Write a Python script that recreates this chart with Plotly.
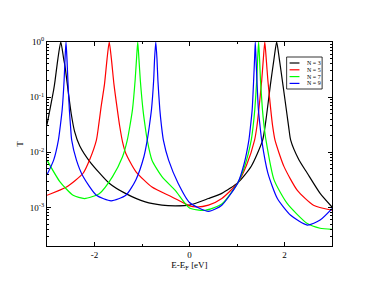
import plotly.graph_objects as go

# ---- data (x = E-E_F [eV], T = transmission) ----
x_n3 = [-3.0, -2.86, -2.83, -2.77, -2.71, -2.65, -2.62, -2.55, -2.49, -2.42, -2.31, -2.10, -1.69,
        -1.34, -0.93, -0.58, -0.30, 0.0, 0.40, 0.68, 1.02, 1.30, 1.54, 1.62, 1.70, 1.78, 1.835,
        1.89, 1.97, 2.05, 2.09, 2.13, 2.30, 2.48, 2.75, 3.0]
t_n3 = [0.0316, 0.135, 0.2, 0.5, 1.0, 0.5, 0.36, 0.12, 0.05, 0.024, 0.013, 0.0068, 0.00275,
        0.00178, 0.00126, 0.0011, 0.00107, 0.0011, 0.00145, 0.0018, 0.00282, 0.0056, 0.0166,
        0.045, 0.16, 0.5, 1.0, 0.5, 0.16, 0.05, 0.028, 0.0166, 0.0074, 0.00417, 0.0018, 0.00102]

x_n5 = [-3.0, -2.59, -2.24, -2.10, -1.96, -1.91, -1.86, -1.79, -1.735, -1.69, -1.645, -1.59,
        -1.52, -1.47, -1.41, -1.34, -1.13, -0.79, -0.37, 0.0, 0.15, 0.40, 0.68, 1.02, 1.20, 1.37,
        1.42, 1.46, 1.52, 1.555, 1.585, 1.615, 1.65, 1.71, 1.75, 1.80, 1.99, 2.27, 2.61, 3.0]
t_n5 = [0.00166, 0.00234, 0.00417, 0.0074, 0.0166, 0.032, 0.068, 0.17, 0.5, 1.0, 0.5, 0.17,
        0.06, 0.03, 0.0155, 0.0095, 0.00447, 0.00234, 0.00155, 0.00107, 0.00102, 0.0011,
        0.00145, 0.00282, 0.0058, 0.0166, 0.03, 0.06, 0.2, 0.5, 1.0, 0.5, 0.2, 0.06, 0.03, 0.0166,
        0.0055, 0.00204, 0.0011, 0.00089]

x_n7 = [-3.0, -2.73, -2.45, -2.21, -1.90, -1.62, -1.41, -1.31, -1.255, -1.20, -1.145, -1.115,
        -1.09, -1.065, -1.035, -0.98, -0.935, -0.89, -0.79, -0.58, -0.30, 0.0, 0.33, 0.68, 1.02,
        1.17, 1.30, 1.34, 1.375, 1.415, 1.435, 1.455, 1.475, 1.495, 1.535, 1.57, 1.61, 1.78, 2.06,
        2.48, 2.75, 3.0]
t_n7 = [0.0072, 0.00295, 0.00166, 0.00145, 0.00178, 0.00363, 0.0083, 0.0166, 0.03, 0.06, 0.2,
        0.5, 1.0, 0.5, 0.2, 0.06, 0.03, 0.0166, 0.0072, 0.00363, 0.00204, 0.00098, 0.00089,
        0.00115, 0.00282, 0.0059, 0.0166, 0.03, 0.06, 0.2, 0.5, 1.0, 0.5, 0.2, 0.06, 0.03, 0.0166,
        0.00316, 0.00117, 0.00051, 0.00042, 0.0004]

x_n9 = [-3.0, -2.86, -2.76, -2.72, -2.68, -2.64, -2.62, -2.60, -2.58, -2.56, -2.53, -2.505,
        -2.48, -2.38, -2.24, -1.96, -1.65, -1.34, -1.13, -0.96, -0.89, -0.845, -0.80, -0.755,
        -0.735, -0.71, -0.685, -0.665, -0.625, -0.59, -0.55, -0.44, -0.24, 0.0, 0.40, 0.68, 1.02,
        1.15, 1.25, 1.285, 1.32, 1.35, 1.37, 1.385, 1.40, 1.42, 1.45, 1.485, 1.52, 1.65, 1.85,
        2.13, 2.48, 2.75, 3.0]
t_n9 = [0.0039, 0.0072, 0.0166, 0.03, 0.06, 0.2, 0.5, 1.0, 0.5, 0.2, 0.06, 0.03, 0.0166, 0.0072,
        0.00363, 0.00166, 0.00132, 0.00166, 0.00316, 0.0083, 0.0166, 0.03, 0.06, 0.2, 0.5, 1.0,
        0.5, 0.2, 0.06, 0.03, 0.0166, 0.0072, 0.00275, 0.00123, 0.00085, 0.0011, 0.00282, 0.0062,
        0.0166, 0.03, 0.06, 0.2, 0.5, 1.0, 0.5, 0.2, 0.06, 0.03, 0.0166, 0.0042, 0.00145,
        0.00072, 0.00048, 0.00059, 0.00095]

series_names = ["N = 3", "N = 5", "N = 7", "N = 9"]
series_colors = ["#000000", "#ff0000", "#00ff00", "#0000ff"]

x_ticks = [-2, 0, 2]
x_ticktext = ["-2", "0", "2"]
x_minor = [-3, -1, 1, 3]
y_ticks = [1e-3, 1e-2, 1e-1, 1]
y_ticktext = ["10<sup>-3</sup>", "10<sup>-2</sup>", "10<sup>-1</sup>", "10<sup>0</sup>"]
y_minor = [m * 10 ** e for e in (-4, -3, -2, -1) for m in range(2, 10)]

FONT = "Liberation Serif"

fig = go.Figure()
for xs, ts, name, col in zip([x_n3, x_n5, x_n7, x_n9], [t_n3, t_n5, t_n7, t_n9],
                              series_names, series_colors):
    fig.add_trace(go.Scatter(x=xs, y=ts, mode="lines", name=name,
                             line=dict(color=col, width=1.2, shape="spline", smoothing=0.6),
                             showlegend=False))

# the page body adds an 8 px offset; the figure is sized so the plot area lands
# at x 43..332, y 42..246 of the window
fig.update_layout(
    width=366, height=273,
    margin=dict(l=35, r=42, t=34, b=35),
    paper_bgcolor="white", plot_bgcolor="white",
    font=dict(family=FONT, size=9, color="black"),
    xaxis=dict(range=[-3, 3], tickvals=x_ticks, ticktext=x_ticktext,
               ticks="inside", ticklen=4, tickwidth=1, tickcolor="black",
               showline=True, linecolor="black", linewidth=1.2, mirror="allticks",
               showgrid=False, zeroline=False,
               minor=dict(tickmode="array", tickvals=x_minor, ticks="inside", ticklen=2,
                          tickcolor="black", showgrid=False),
               title=dict(text="E-E<sub>F</sub> [eV]", font=dict(size=9), standoff=2)),
    yaxis=dict(type="log", range=[-3.699, 0], tickvals=y_ticks, ticktext=y_ticktext,
               ticks="inside", ticklen=4, tickwidth=1, tickcolor="black",
               showline=True, linecolor="black", linewidth=1.2, mirror="allticks",
               showgrid=False, zeroline=False,
               minor=dict(tickmode="array", tickvals=y_minor, ticks="inside", ticklen=2,
                          tickcolor="black", showgrid=False),
               title=dict(text="T", font=dict(size=9), standoff=4)),
)

# compact legend box (xmgrace style), positioned in plot-area fractions
lx0, lx1, ly0, ly1 = 286, 322, 57, 89
PL, PW, PB, PH = 43, 289, 246, 204
fig.add_shape(type="rect", xref="paper", yref="paper",
              x0=(lx0 - PL) / PW, x1=(lx1 - PL) / PW,
              y0=(PB - ly1) / PH, y1=(PB - ly0) / PH,
              line=dict(color="black", width=0.8), fillcolor="white", layer="above")
for i, (name, col) in enumerate(zip(series_names, series_colors)):
    yy = 63 + i * 6.8
    yp = (PB - yy) / PH
    fig.add_shape(type="line", xref="paper", yref="paper",
                  x0=(289 - PL) / PW, x1=(299 - PL) / PW, y0=yp, y1=yp,
                  line=dict(color=col, width=1.2), layer="above")
    fig.add_annotation(xref="paper", yref="paper", x=(305 - PL) / PW, y=yp,
                       text=name, showarrow=False, xanchor="left", yanchor="middle",
                       font=dict(size=6, family=FONT, color="black"))

fig.write_html("out.html")
